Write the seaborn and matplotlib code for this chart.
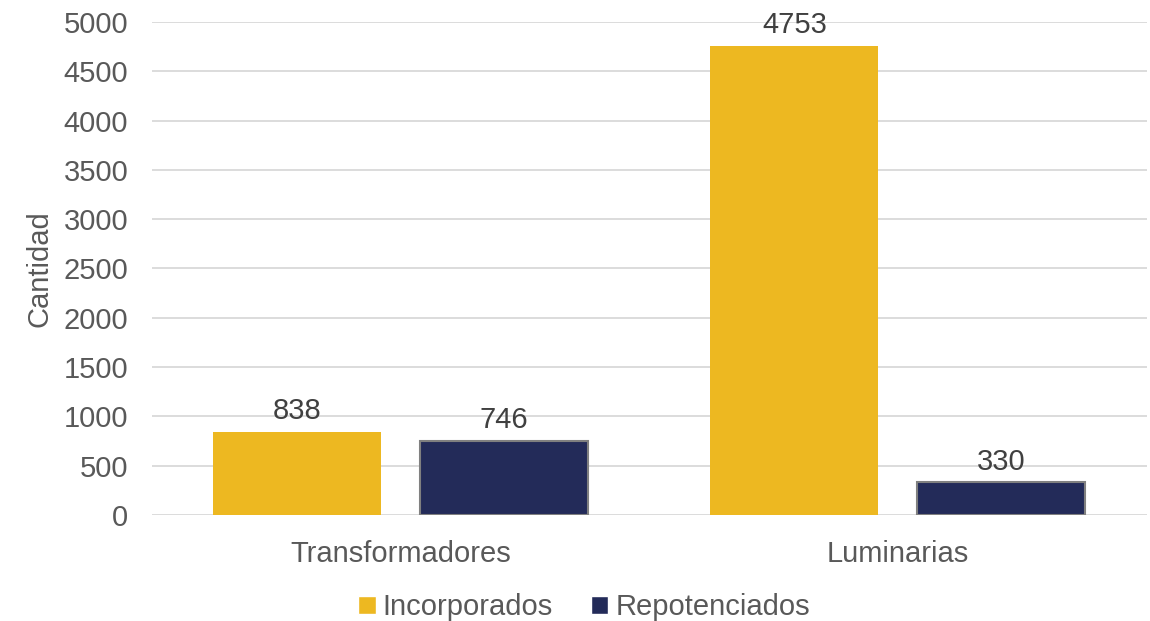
import pandas as pd
import matplotlib.pyplot as plt
import seaborn as sns

categorias = ["Transformadores", "Luminarias"]
series = ["Incorporados", "Repotenciados"]
incorporados = [838, 4753]
repotenciados = [746, 330]
colores = ["#EDB821", "#232B59"]

df = pd.DataFrame({
    "categoria": categorias * 2,
    "serie": [series[0]] * 2 + [series[1]] * 2,
    "cantidad": incorporados + repotenciados,
})

sns.set_style("white")
plt.rcParams["font.family"] = ["Liberation Sans", "DejaVu Sans"]

fig = plt.figure(figsize=(11.5, 6.21), dpi=100)
ax = fig.add_axes([0.132, 0.1707, 0.865, 0.7939])

sns.barplot(data=df, x="categoria", y="cantidad", hue="serie", order=categorias,
            hue_order=series, palette=colores, width=0.832, gap=0.1875,
            saturation=1, ax=ax, legend=True)

# borde gris solo en las barras azules
for bar in ax.containers[1]:
    bar.set_edgecolor("#808080")
    bar.set_linewidth(1.5)
for bar in ax.containers[0]:
    bar.set_linewidth(0)

for cont in ax.containers:
    ax.bar_label(cont, fmt="%d", padding=5, fontsize=21, color="#404040")

ax.set_ylim(0, 5000)
ax.set_xlim(-0.5, 1.5)
ax.set_yticks(range(0, 5001, 500))
ax.yaxis.grid(True, color="#D9D9D9", linewidth=1.3)
ax.set_axisbelow(True)
sns.despine(ax=ax, left=True, bottom=True, top=True, right=True)
ax.tick_params(axis="both", length=0, labelsize=21, labelcolor="#595959")
ax.tick_params(axis="y", pad=17)
ax.tick_params(axis="x", pad=18)
ax.set_xlabel("")
ax.set_ylabel("Cantidad", fontsize=21, color="#595959")
ax.yaxis.set_label_coords(-0.0985, 0.5)

handles, labels = ax.get_legend_handles_labels()
ax.get_legend().remove()
fig.legend(handles, labels, loc="center", bbox_to_anchor=(0.508, 0.022), ncol=2,
           frameon=False, fontsize=21, labelcolor="#595959", handlelength=0.6,
           handleheight=0.6, handletextpad=0.25, columnspacing=1.3)

fig.savefig("out.png", dpi=100)
